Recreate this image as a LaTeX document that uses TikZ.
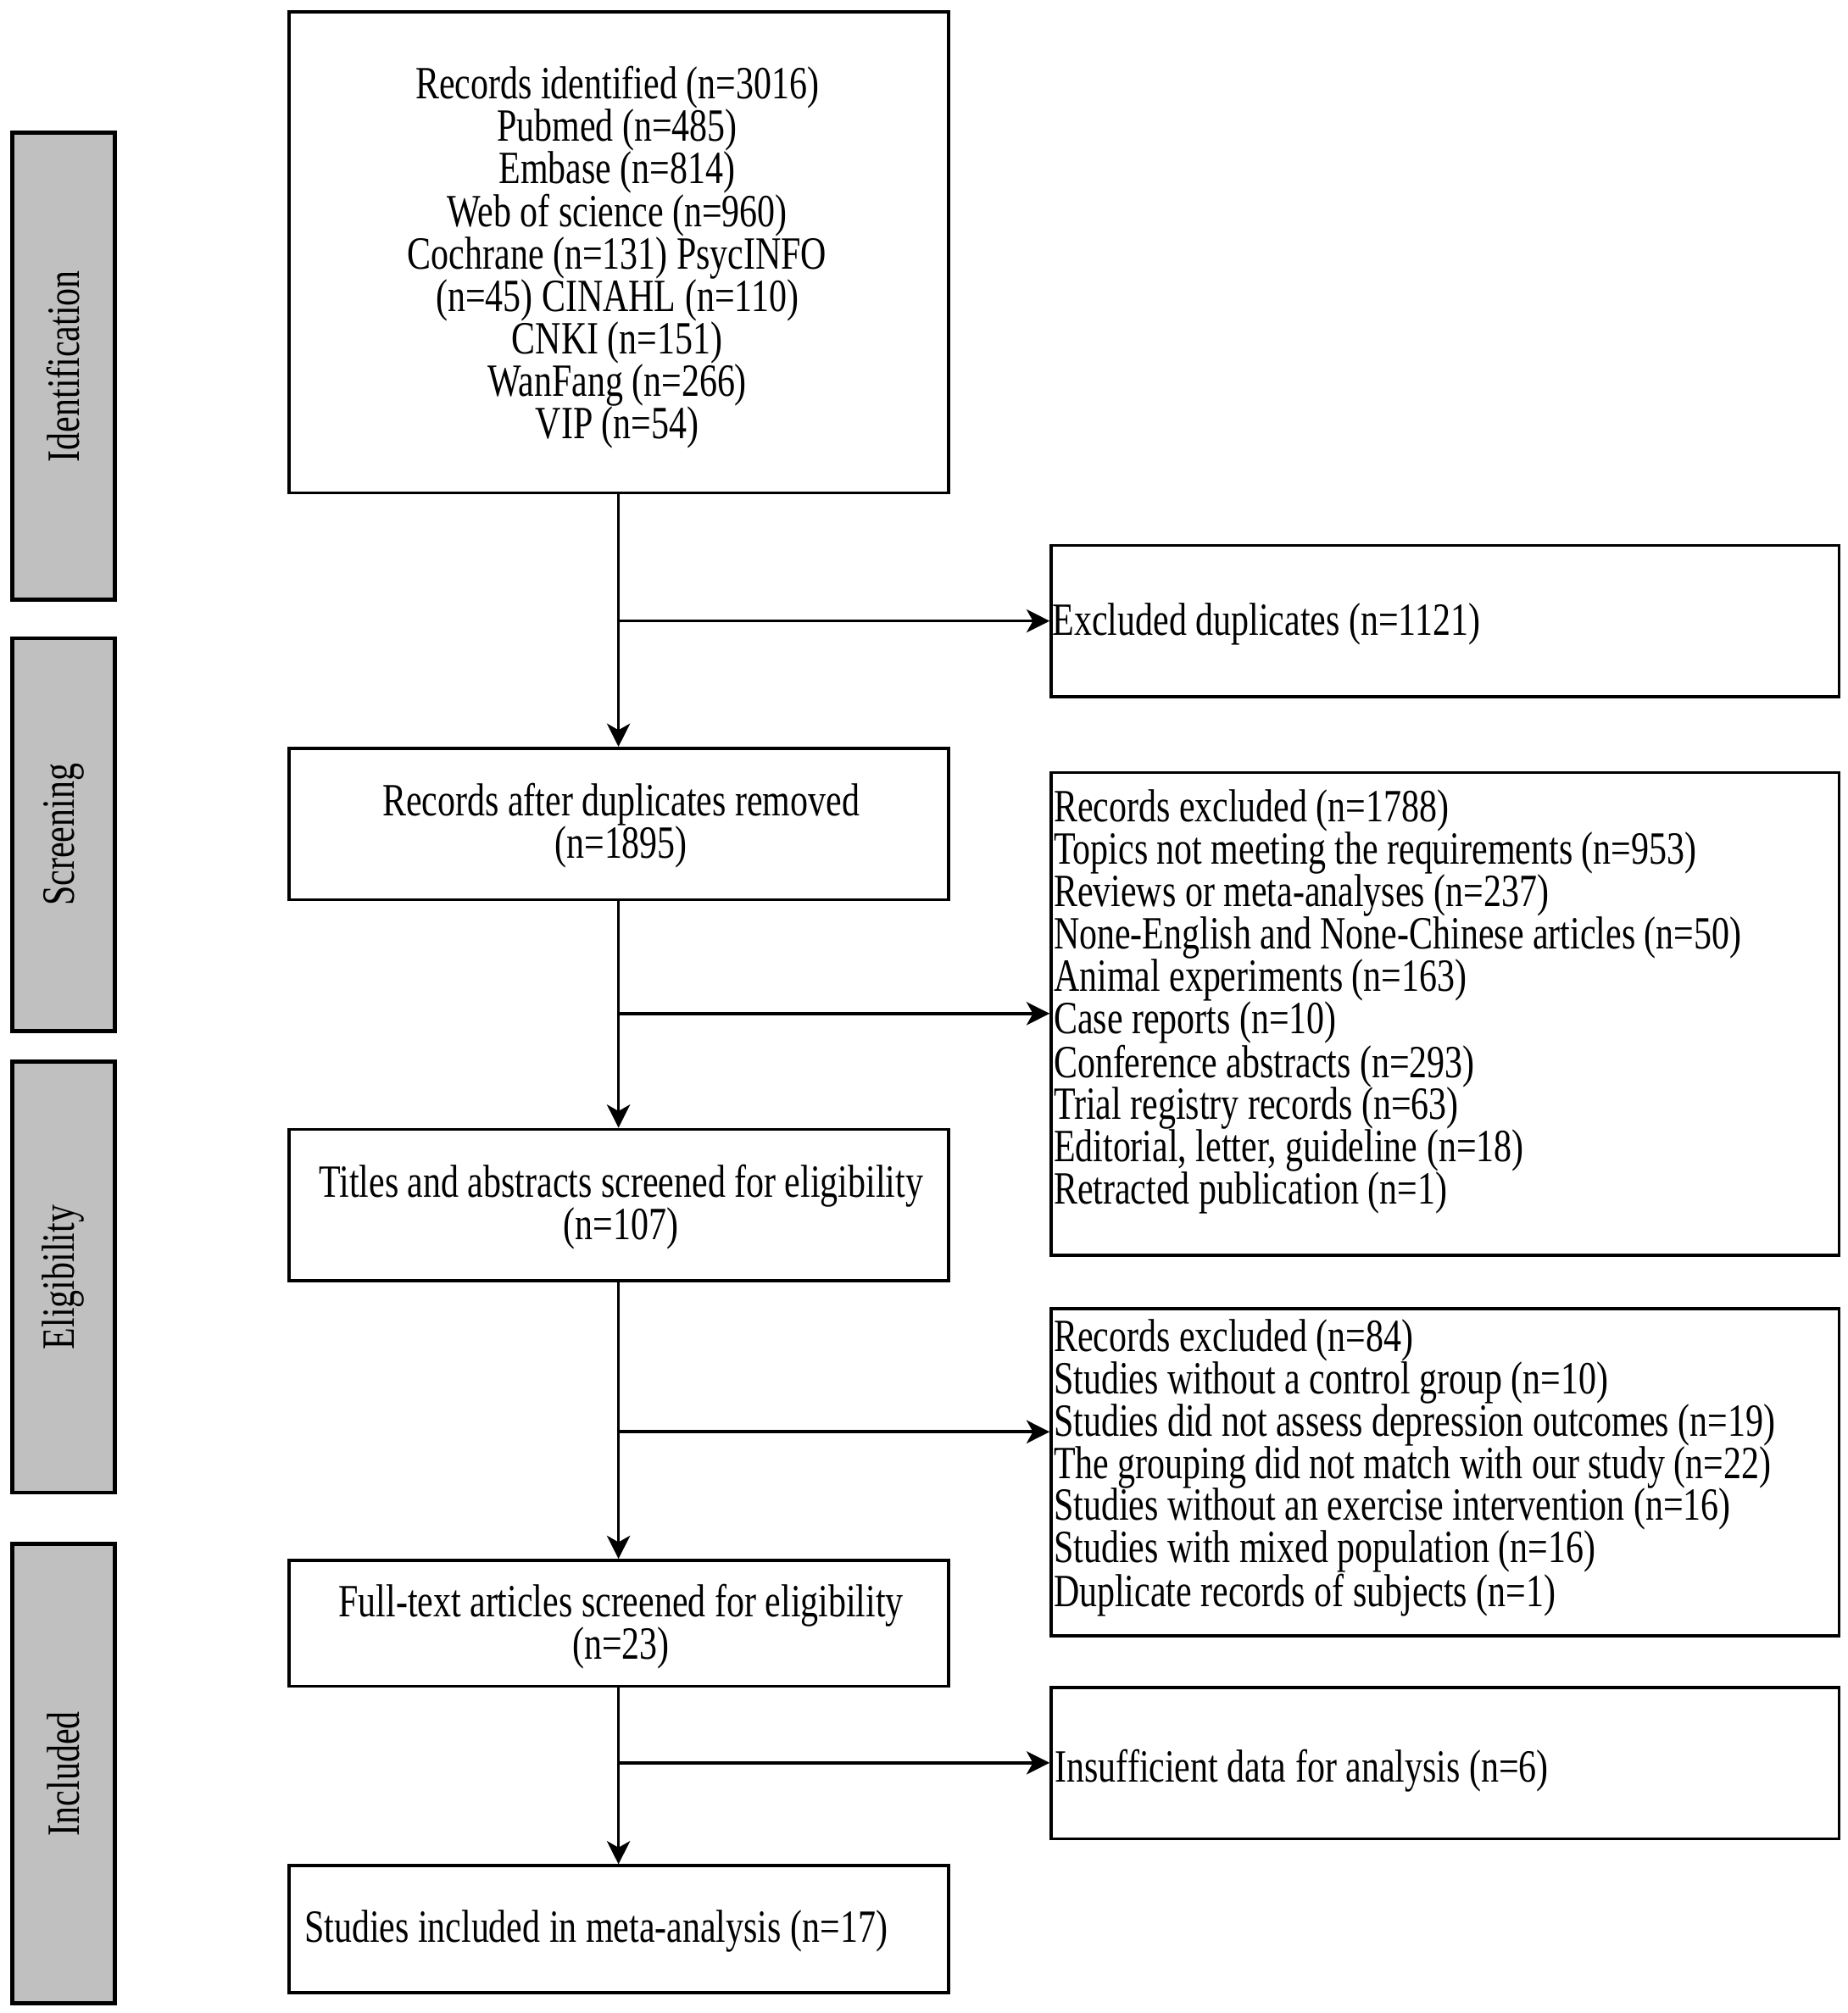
\documentclass[tikz,border=0pt]{standalone}
\usepackage{fontspec}
\setmainfont{Liberation Serif}[FakeStretch=0.77]
\usetikzlibrary{arrows.meta}
\newcommand\bodyfs{\fontsize{36pt}{33pt}\selectfont}
\definecolor{bargray}{HTML}{C0C0C0}
\begin{document}
\begin{tikzpicture}[x=1pt,y=-1pt,
  box/.style={draw, line width=2.4pt, minimum width=514pt, inner sep=0pt, anchor=north west},
  rbox/.style={draw, line width=2.4pt, minimum width=614pt, inner sep=0pt, anchor=north west},
  btext/.style={font=\bodyfs, align=center, inner sep=0pt, yshift=-3.5pt},
  ltext/.style={font=\bodyfs, align=left, inner sep=0pt, anchor=west, yshift=-3.5pt},
  bar/.style={draw, line width=3pt, fill=bargray, minimum width=80pt, inner sep=0pt, anchor=north west},
  bartext/.style={font=\bodyfs, rotate=90, inner sep=0pt},
  arr/.style={line width=2.4pt, -{Stealth[length=18pt, width=18pt, inset=5pt]}},
  ln/.style={line width=2.4pt}]
\useasboundingbox (0,0) rectangle (1440,1569);

% phase bars
\node[bar, minimum height=364pt] (b1) at (8,102) {};
\node[bartext] (b1t) at (b1.center) {Identification};
\node[bar, minimum height=306pt] (b2) at (8,496) {};
\node[bartext] (b2t) at (b2.center) {Screening};
\node[bar, minimum height=336pt] (b3) at (8,826) {};
\node[bartext] (b3t) at (b3.center) {Eligibility};
\node[bar, minimum height=358pt] (b4) at (8,1202) {};
\node[bartext] (b4t) at (b4.center) {Included};

% main column
\node[box, minimum height=375pt] (A) at (224,8) {};
\node[btext] (At) at (481,197) {Records identified (n=3016)\\Pubmed (n=485)\\Embase (n=814)\\Web of science (n=960)\\Cochrane (n=131) PsycINFO\\(n=45) CINAHL (n=110)\\CNKI (n=151)\\WanFang (n=266)\\VIP (n=54)};

\node[box, minimum height=118pt] (B) at (224,582) {};
\node[btext] (Bt) at (484,640) {Records after duplicates removed\\(n=1895)};

\node[box, minimum height=118pt] (C) at (224,879) {};
\node[btext] (Ct) at (484,937) {Titles and abstracts screened for eligibility\\(n=107)};

\node[box, minimum height=98pt] (D) at (224,1215) {};
\node[btext] (Dt) at (484,1264) {Full-text articles screened for eligibility\\(n=23)};

\node[box, minimum height=99pt] (E) at (224,1453) {};
\node[ltext] (Et) at (237,1502) {Studies included in meta-analysis (n=17)};

% right column
\node[rbox, minimum height=118pt] (R1) at (818,424) {};
\node[ltext] (R1t) at (820,483) {Excluded duplicates (n=1121)};

\node[rbox, minimum height=376pt] (R2) at (818,601) {};
\node[ltext] (R2t) at (821,777.5) {Records excluded (n=1788)\\Topics not meeting the requirements (n=953)\\Reviews or meta-analyses (n=237)\\None-English and None-Chinese articles (n=50)\\Animal experiments (n=163)\\Case reports (n=10)\\Conference abstracts (n=293)\\Trial registry records (n=63)\\Editorial, letter, guideline (n=18)\\Retracted publication (n=1)};

\node[rbox, minimum height=255pt] (R3) at (818,1019) {};
\node[ltext] (R3t) at (821,1140.5) {Records excluded (n=84)\\Studies without a control group (n=10)\\Studies did not assess depression outcomes (n=19)\\The grouping did not match with our study (n=22)\\Studies without an exercise intervention (n=16)\\Studies with mixed population (n=16)\\Duplicate records of subjects (n=1)};

\node[rbox, minimum height=118pt] (R4) at (818,1314) {};
\node[ltext] (R4t) at (822,1377) {Insufficient data for analysis (n=6)};

% vertical flow
\draw[arr] (A.south -| 482,0) -- (B.north -| 482,0);
\draw[arr] (B.south -| 482,0) -- (C.north -| 482,0);
\draw[arr] (C.south -| 482,0) -- (D.north -| 482,0);
\draw[arr] (D.south -| 482,0) -- (E.north -| 482,0);

% branches
\coordinate (j1) at (482,484);
\coordinate (j2) at (482,790);
\coordinate (j3) at (482,1116);
\coordinate (j4) at (482,1374);
\draw[arr] (j1) -- (j1 -| R1.west);
\draw[arr] (j2) -- (j2 -| R2.west);
\draw[arr] (j3) -- (j3 -| R3.west);
\draw[arr] (j4) -- (j4 -| R4.west);
\end{tikzpicture}
\end{document}
